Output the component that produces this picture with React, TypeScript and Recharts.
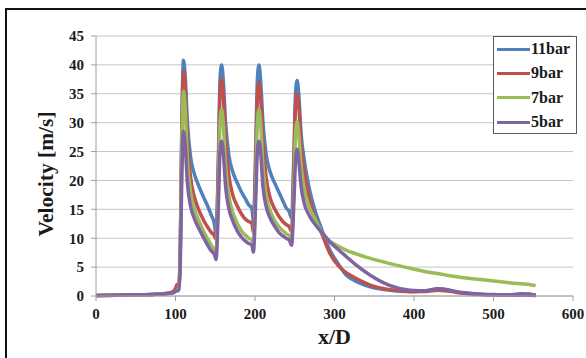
import React from 'react';
import { LineChart, Line, XAxis, YAxis, CartesianGrid, Legend, Label } from 'recharts';

// x/D positions shared by all four series
const xD = [
  0, 25, 50, 75, 90, 97, 100, 102, 104, 106, 108,
  110, 112, 115, 119, 124, 130, 135, 140, 145, 149, 151,
  154, 156,
  158, 160, 163, 167, 172, 178, 183, 188, 192, 196, 198,
  201, 203,
  205, 207, 210, 214, 219, 225, 230, 235, 239, 243, 246,
  249, 251,
  253, 255, 258, 262, 268, 275, 284, 294, 305, 315, 325, 345, 370, 395, 415, 430, 445, 460, 480, 500, 520, 535, 545, 553,
];

const v11bar = [
  0.1, 0.15, 0.2, 0.3, 0.45, 0.6, 0.8, 1.0, 1.2, 8, 30,
  40.8, 38.5, 30, 24, 21, 18.8, 17.2, 15.7, 14, 12.4, 10.5,
  24, 37.5,
  40.0, 37.5, 30, 24.5, 21.5, 19.5, 18, 16.8, 15.8, 15.2, 13,
  26, 37.5,
  40, 37.5, 30, 24.5, 21.5, 19.5, 18, 16.5, 15.3, 14.6, 13.5,
  25, 35,
  37.3, 35, 28, 23.5, 18.8, 15, 11.5, 8, 5.5, 3.6, 2.7, 1.6, 1.0, 0.75, 0.9, 1.2, 0.95, 0.55, 0.3, 0.2, 0.15, 0.15, 0.12, 0.1,
];

const v9bar = [
  0.1, 0.15, 0.2, 0.3, 0.5, 0.8, 1.3, 2.0, 1.9, 8, 29,
  39, 36.5, 27, 20.5, 17, 14.7, 13.2, 12, 11, 10.4, 9.8,
  23, 35,
  37.5, 35, 27, 21, 17.5, 15.5, 14.2, 13.3, 12.9, 12.6, 11,
  24, 34.5,
  37, 34.5, 26.5, 20.5, 17, 15, 13.8, 12.9, 12.4, 12, 11.2,
  23, 33,
  35, 33, 26, 21.5, 17, 13.8, 10.8, 7.4, 5.2, 4.0, 3.2, 1.9, 1.1, 0.8, 0.8, 1.0, 0.8, 0.5, 0.3, 0.2, 0.2, 0.25, 0.2, 0.1,
];

const v7bar = [
  0.1, 0.15, 0.2, 0.3, 0.45, 0.6, 0.8, 1.0, 1.2, 7, 26,
  35.5, 33, 23.5, 18, 15, 12.8, 11.3, 10, 8.8, 8.0, 7.5,
  19, 30,
  32.3, 30, 22.5, 17.5, 14.5, 12.5, 11.3, 10.5, 10, 9.7, 9.2,
  20, 30,
  32.3, 30, 22.5, 17.5, 14.8, 13, 12, 11.3, 10.8, 10.5, 10,
  19.5, 28,
  30.2, 28, 22.5, 18.5, 15.5, 13.5, 11, 9.5, 8.6, 7.9, 7.4, 6.5, 5.6, 4.8, 4.2, 3.9, 3.5, 3.2, 2.9, 2.6, 2.3, 2.1, 2.0, 1.8,
];

const v5bar = [
  0.1, 0.15, 0.2, 0.3, 0.45, 0.6, 0.8, 0.9, 1.0, 5.5, 21,
  28.5, 26.5, 19.5, 15.5, 13.3, 11.5, 10.2, 8.9, 7.8, 7.2, 6.3,
  16, 25,
  26.8, 25, 19, 15.2, 13, 11.2, 10.2, 9.5, 9.1, 8.8, 7.6,
  17, 25,
  26.8, 25, 19, 15.5, 13.5, 12, 11, 10.4, 10, 9.7, 8.8,
  16.5, 23.5,
  25.4, 23.5, 19, 16, 14, 12.5, 11, 9.4, 8, 6.8, 5.6, 3.6, 1.8, 1.0, 0.9, 1.25, 1.0, 0.6, 0.35, 0.25, 0.2, 0.4, 0.35, 0.15,
];

const xTicks = [0, 100, 200, 300, 400, 500, 600];
const yTicks = [0, 5, 10, 15, 20, 25, 30, 35, 40, 45];

const series = [
  { key: 'p11', name: '11bar', color: '#4F81BD', values: v11bar },
  { key: 'p9', name: '9bar', color: '#C0504D', values: v9bar },
  { key: 'p7', name: '7bar', color: '#9BBB59', values: v7bar },
  { key: 'p5', name: '5bar', color: '#8064A2', values: v5bar },
];

const data = xD.map((x, i) => {
  const row: Record<string, number> = { x };
  series.forEach((s) => {
    row[s.key] = s.values[i];
  });
  return row;
});

const font = '"Liberation Serif", "Times New Roman", serif';
const tickStyle = { fill: '#1a1a1a', fontSize: 15, fontWeight: 700, fontFamily: font };

const LegendBox = () => (
  <div
    style={{
      width: 84,
      height: 98,
      boxSizing: 'border-box',
      border: '1px solid #5a5a5a',
      background: '#fff',
      fontFamily: font,
      fontWeight: 700,
      fontSize: 16,
      color: '#1a1a1a',
      paddingLeft: 3,
    }}
  >
    {series.map((s) => (
      <div key={s.key} style={{ display: 'flex', alignItems: 'center', height: 24.3 }}>
        <span style={{ display: 'inline-block', width: 33, height: 3, background: s.color }} />
        <span style={{ marginLeft: 1, lineHeight: '16px' }}>{s.name}</span>
      </div>
    ))}
  </div>
);

export default function App() {
  return (
    <div style={{ position: 'absolute', left: 0, top: 0, width: 586, height: 358, background: '#fff', overflow: 'hidden' }}>
      <div
        style={{
          position: 'absolute',
          left: 5,
          top: 8,
          right: -4,
          bottom: -4,
          borderTop: '2.5px solid #111',
          borderLeft: '2.5px solid #111',
        }}
      />
      <LineChart width={586} height={358} data={data} margin={{ top: 36, right: 13, bottom: 0, left: 46 }}>
        <CartesianGrid vertical={false} stroke="#c4c4c4" strokeWidth={1} />
        <XAxis
          dataKey="x"
          type="number"
          domain={[0, 600]}
          ticks={xTicks}
          height={62}
          tick={tickStyle}
          tickSize={5}
          tickMargin={7}
          stroke="#a0a0a0"
          tickLine={{ stroke: '#a0a0a0' }}
        >
          <Label
            content={({ viewBox }: any) => (
              <text
                x={viewBox.x + viewBox.width / 2}
                y={viewBox.y + 48}
                textAnchor="middle"
                fontFamily={font}
                fontWeight={700}
                fontSize={22}
                fill="#1a1a1a"
              >
                x/D
              </text>
            )}
          />
        </XAxis>
        <YAxis
          type="number"
          domain={[0, 45]}
          ticks={yTicks}
          width={50}
          tick={tickStyle}
          tickSize={5}
          tickMargin={7}
          stroke="#a0a0a0"
          tickLine={{ stroke: '#a0a0a0' }}
        >
          <Label
            content={({ viewBox }: any) => {
              const cx = viewBox.x + 7;
              const cy = viewBox.y + viewBox.height / 2 + 8;
              return (
                <text
                  x={cx}
                  y={cy}
                  transform={`rotate(-90, ${cx}, ${cy})`}
                  textAnchor="middle"
                  fontFamily={font}
                  fontWeight={700}
                  fontSize={21.5}
                  fill="#1a1a1a"
                >
                  Velocity [m/s]
                </text>
              );
            }}
          />
        </YAxis>
        <Legend
          layout="vertical"
          align="center"
          verticalAlign="middle"
          content={() => <LegendBox />}
          wrapperStyle={{ position: 'absolute', left: 493, top: 36, width: 84 }}
        />
        {series.map((s) => (
          <Line
            key={s.key}
            dataKey={s.key}
            name={s.name}
            type="monotone"
            stroke={s.color}
            strokeWidth={3.5}
            dot={false}
            activeDot={false}
            isAnimationActive={false}
          />
        ))}
      </LineChart>
    </div>
  );
}
